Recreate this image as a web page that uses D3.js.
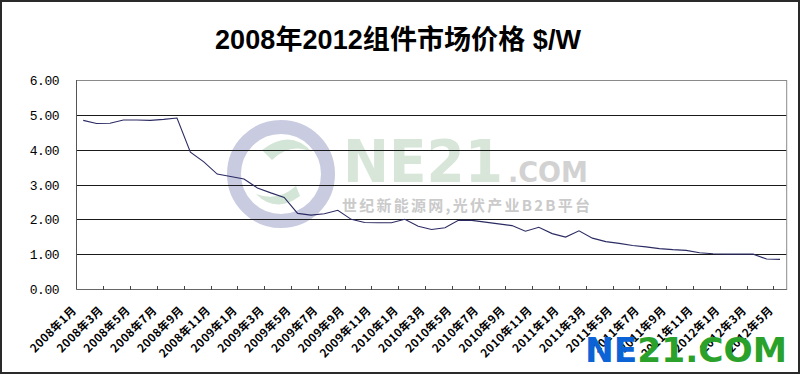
<!DOCTYPE html>
<html>
<head>
<meta charset="utf-8">
<script src="https://cdn.jsdelivr.net/npm/d3@7"></script>
<style>
    body { margin: 0; background: #fff; }
    svg { display: block; }
</style>
</head>
<body>
<svg></svg>
<script>
const MONTHS = [];
const YEARS = [2008, 2009, 2010, 2011, 2012];
YEARS.forEach((yr) => {
    for (let m = 1; m <= 12; m++) {
        if (yr === 2012 && m > 5) break;
        MONTHS.push(`${yr}年${m}月`);
    }
});

const PRICES = [
    4.84, 4.75, 4.76, 4.85, 4.85, 4.84, 4.87, 4.91, 3.93, 3.65, 3.30, 3.23,
    3.16, 2.90, 2.76, 2.63, 2.17, 2.12, 2.16, 2.26, 2.00, 1.91, 1.90, 1.90,
    2.00, 1.80, 1.71, 1.76, 1.97, 1.97, 1.92, 1.87, 1.82, 1.66, 1.77, 1.59,
    1.49, 1.67, 1.46, 1.36, 1.31, 1.25, 1.21, 1.16, 1.13, 1.11, 1.04, 1.01,
    1.00, 1.00, 1.00, 0.86, 0.85,
];

const Y_TICKS = [0, 1, 2, 3, 4, 5, 6];
const TITLE = '2008年2012组件市场价格 $/W';

const WIDTH = 800;
const HEIGHT = 374;
const PLOT = { left: 76.5, right: 786.7, top: 80, bottom: 289 };

const svg = d3.select('svg').attr('width', WIDTH).attr('height', HEIGHT);

const x = d3.scaleBand().domain(MONTHS).range([PLOT.left, PLOT.right]).padding(0);
const y = d3.scaleLinear().domain([0, 6]).range([PLOT.bottom, PLOT.top]);

// outer frame
svg.append('rect')
    .attr('x', 1).attr('y', 1)
    .attr('width', WIDTH - 2).attr('height', HEIGHT - 2)
    .attr('fill', '#fff')
    .attr('stroke', '#2a2a2a')
    .attr('stroke-width', 2);

svg.append('text')
    .attr('x', 398)
    .attr('y', 49)
    .attr('text-anchor', 'middle')
    .attr('font-family', 'Liberation Sans, Noto Sans CJK SC, sans-serif')
    .attr('font-weight', 'bold')
    .attr('font-size', 27)
    .attr('textLength', 366)
    .text(TITLE);

// watermark
const wm = svg.append('g');
wm.append('circle')
    .attr('cx', 281).attr('cy', 174).attr('r', 47)
    .attr('fill', 'none')
    .attr('stroke', '#c9cbe0')
    .attr('stroke-width', 14);
wm.append('path')
    .attr('d', 'M262,150 Q290,128 312,152 Q290,142 272,160 Z')
    .attr('fill', '#d3e5d6');
wm.append('path')
    .attr('d', 'M300,196 Q276,214 256,194 Q278,202 296,186 Z')
    .attr('fill', '#d3e5d6');
wm.append('text')
    .attr('x', 343).attr('y', 182)
    .attr('font-family', 'DejaVu Sans, sans-serif')
    .attr('font-weight', 'bold')
    .attr('font-size', 58)
    .attr('textLength', 160)
    .attr('lengthAdjust', 'spacingAndGlyphs')
    .attr('fill', '#d7e6d9')
    .text('NE21');
wm.append('text')
    .attr('x', 508).attr('y', 182)
    .attr('font-family', 'DejaVu Sans, sans-serif')
    .attr('font-weight', 'bold')
    .attr('font-size', 28)
    .attr('textLength', 80)
    .attr('lengthAdjust', 'spacingAndGlyphs')
    .attr('fill', '#d2d2d2')
    .text('.COM');
wm.append('text')
    .attr('x', 342).attr('y', 211)
    .attr('font-family', 'Noto Sans CJK SC, sans-serif')
    .attr('font-weight', 'bold')
    .attr('font-size', 15)
    .attr('textLength', 248)
    .attr('fill', '#cacaca')
    .text('世纪新能源网,光伏产业B2B平台');

// gridlines
svg.append('g')
    .selectAll('line')
    .data(Y_TICKS.filter((t) => t > 0 && t < 6))
    .enter()
    .append('line')
    .attr('x1', PLOT.left).attr('x2', PLOT.right)
    .attr('y1', (d) => Math.round(y(d)) + 0.5)
    .attr('y2', (d) => Math.round(y(d)) + 0.5)
    .attr('stroke', '#1a1a1a')
    .attr('stroke-width', 1);

svg.append('rect')
    .attr('x', PLOT.left).attr('y', PLOT.top + 0.5)
    .attr('width', PLOT.right - PLOT.left)
    .attr('height', PLOT.bottom - PLOT.top)
    .attr('fill', 'none')
    .attr('stroke', '#8a8a8a');

// y axis
svg.append('line')
    .attr('x1', PLOT.left).attr('x2', PLOT.left)
    .attr('y1', PLOT.top).attr('y2', PLOT.bottom)
    .attr('stroke', '#555');

svg.append('g')
    .selectAll('text')
    .data(Y_TICKS)
    .enter()
    .append('text')
    .attr('x', 59)
    .attr('y', (d) => y(d) + 5)
    .attr('text-anchor', 'end')
    .attr('font-family', 'Liberation Mono, monospace')
    .attr('font-size', 13)
    .attr('letter-spacing', -0.5)
    .text((d) => d3.format('.2f')(d));

// x axis
svg.append('line')
    .attr('x1', PLOT.left).attr('x2', PLOT.right)
    .attr('y1', PLOT.bottom + 0.5).attr('y2', PLOT.bottom + 0.5)
    .attr('stroke', '#666');

const tickMonths = MONTHS.filter((d, i) => i > 0 && i % 2 === 0);
svg.append('g')
    .selectAll('line')
    .data(tickMonths)
    .enter()
    .append('line')
    .attr('x1', (d) => Math.round(x(d)) + 0.5)
    .attr('x2', (d) => Math.round(x(d)) + 0.5)
    .attr('y1', PLOT.bottom - 3)
    .attr('y2', PLOT.bottom + 1)
    .attr('stroke', '#444');

const labelMonths = MONTHS.filter((d, i) => i % 2 === 0);
svg.append('g')
    .selectAll('text')
    .data(labelMonths)
    .enter()
    .append('text')
    .attr('transform', (d) => `translate(${x(d) + x.bandwidth() / 2 - 6},311) rotate(-45)`)
    .attr('text-anchor', 'end')
    .attr('font-family', 'Noto Sans CJK SC, sans-serif')
    .attr('font-weight', 'bold')
    .attr('font-size', 11.5)
    .attr('letter-spacing', 0.4)
    .text((d) => d);

// price line
const line = d3.line()
    .x((d, i) => x(MONTHS[i]) + x.bandwidth() / 2)
    .y((d) => y(d));

svg.append('path')
    .datum(PRICES)
    .attr('d', line)
    .attr('fill', 'none')
    .attr('stroke', '#2b2b63')
    .attr('stroke-width', 1.1);

// corner logo
const logo = svg.append('text')
    .attr('x', 585).attr('y', 362)
    .attr('font-family', 'DejaVu Sans, sans-serif')
    .attr('font-weight', 'bold')
    .attr('font-size', 34)
    .attr('textLength', 202)
    .attr('lengthAdjust', 'spacingAndGlyphs');
logo.append('tspan').attr('fill', '#0b63d6').text('NE');
logo.append('tspan').attr('fill', '#2aa12a').text('21.COM');
</script>
</body>
</html>
